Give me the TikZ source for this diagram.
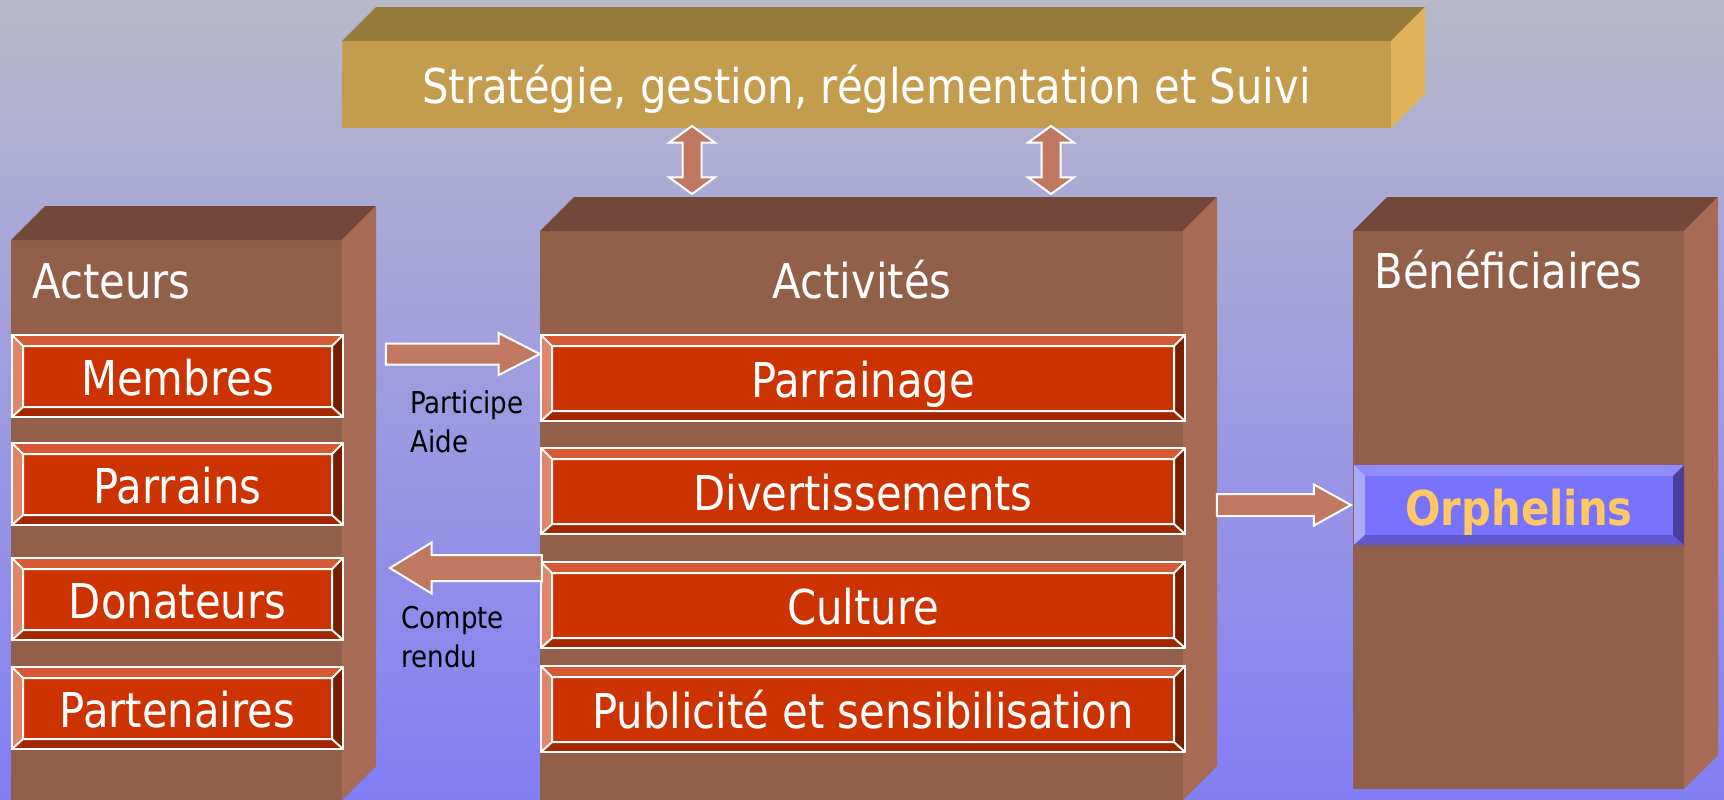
\documentclass[tikz,border=0pt]{standalone}
\usepackage{fontspec}
\setmainfont{DejaVu Sans}[FakeStretch=0.87]
\usetikzlibrary{shapes.arrows}

\definecolor{bgtop}{RGB}{184,184,202}
\definecolor{bgbot}{RGB}{130,126,246}
\definecolor{colfront}{RGB}{146,95,74}
\definecolor{coltop}{RGB}{115,72,59}
\definecolor{colside}{RGB}{166,106,85}
\definecolor{goldfront}{RGB}{196,156,78}
\definecolor{goldtop}{RGB}{150,122,60}
\definecolor{goldside}{RGB}{226,180,90}
\definecolor{redface}{RGB}{204,51,0}
\definecolor{redtop}{RGB}{214,90,51}
\definecolor{redleft}{RGB}{224,132,106}
\definecolor{redbot}{RGB}{163,40,0}
\definecolor{redright}{RGB}{122,30,0}
\definecolor{blueface}{RGB}{120,115,255}
\definecolor{bluetop}{RGB}{144,140,255}
\definecolor{blueleft}{RGB}{170,170,255}
\definecolor{bluebot}{RGB}{96,88,204}
\definecolor{blueright}{RGB}{72,64,154}
\definecolor{arrowfill}{RGB}{192,120,96}
\definecolor{orphtext}{RGB}{255,200,100}

\newcommand\boxsides[3]{%
  \fill[#2] (#1.north west) -- ++(17pt,17pt) -- ([shift={(17pt,17pt)}]#1.north east) -- (#1.north east) -- cycle;
  \fill[#3] (#1.north east) -- ++(17pt,17pt) -- ([shift={(17pt,17pt)}]#1.south east) -- (#1.south east) -- cycle;
}

\tikzset{
  colbox/.style={fill=colfront, inner sep=0pt, outer sep=0pt, anchor=north west},
  goldbox/.style={fill=goldfront, inner sep=0pt, outer sep=0pt, anchor=north west, text=white,
    font=\fontsize{24}{28}\selectfont, text height=18.5pt, text depth=0pt},
  heading/.style={text=white, font=\fontsize{24}{28}\selectfont, inner sep=0pt},
  bevel/.style n args={6}{fill=#1, draw=#6, line width=1pt, path picture={
    \coordinate (bnw) at (path picture bounding box.north west);
    \coordinate (bne) at (path picture bounding box.north east);
    \coordinate (bse) at (path picture bounding box.south east);
    \coordinate (bsw) at (path picture bounding box.south west);
    \coordinate (inw) at ([shift={(5.5pt,-5.5pt)}]bnw);
    \coordinate (ine) at ([shift={(-5.5pt,-5.5pt)}]bne);
    \coordinate (ise) at ([shift={(-5.5pt,5pt)}]bse);
    \coordinate (isw) at ([shift={(5.5pt,5pt)}]bsw);
    \fill[#2] (bnw) -- (bne) -- (ine) -- (inw) -- cycle;
    \fill[#3] (bnw) -- (inw) -- (isw) -- (bsw) -- cycle;
    \fill[#4] (bsw) -- (isw) -- (ise) -- (bse) -- cycle;
    \fill[#5] (bne) -- (bse) -- (ise) -- (ine) -- cycle;
    \path[draw=#6, line width=1pt] (inw) -- (ine) -- (ise) -- (isw) -- cycle
      (bnw) -- (inw) (bne) -- (ine) (bse) -- (ise) (bsw) -- (isw);
  }},
  redbox/.style={bevel={redface}{redtop}{redleft}{redbot}{redright}{white}, inner sep=0pt,
    anchor=north west, text=white, font=\fontsize{24}{28}\selectfont, text height=19pt, text depth=0pt},
  bluebox/.style={bevel={blueface}{bluetop}{blueleft}{bluebot}{blueright}{none}, inner sep=0pt,
    anchor=north west, text=orphtext, font=\fontsize{24}{28}\selectfont\bfseries, text height=20pt, text depth=0pt},
  lbl/.style={align=left, font=\fontsize{15}{19.5}\selectfont, inner sep=0pt, text=black},
  fatarrow/.style={single arrow, fill=arrowfill, draw=white, line width=1pt},
  fatdouble/.style={double arrow, shape border rotate=90, fill=arrowfill, draw=white, line width=1pt}
}

\begin{document}
\begin{tikzpicture}[x=0.5pt, y=-0.5pt]
\useasboundingbox (0,0) rectangle (1724,799);
\shade[top color=bgtop, bottom color=bgbot] (0,0) rectangle (1724,799);

\node[goldbox, minimum width=524.5pt, minimum height=43.5pt] (strategie) at (342,41) {Stratégie, gestion, réglementation et Suivi};
\boxsides{strategie}{goldtop}{goldside}

\node[colbox, minimum width=165.5pt, minimum height=280pt] (acteurs) at (11,240) {};
\boxsides{acteurs}{coltop}{colside}
\node[colbox, minimum width=321.5pt, minimum height=284.5pt] (activites) at (540,231) {};
\boxsides{activites}{coltop}{colside}
\node[colbox, minimum width=165.5pt, minimum height=279pt] (benef) at (1353,231) {};
\boxsides{benef}{coltop}{colside}

\node[heading, anchor=base west] (tacteurs) at (32,298) {Acteurs};
\node[heading, anchor=base] (tactivites) at (862,298) {Activités};
\node[heading, anchor=base west] (tbenef) at (1374,288) {Bénéficiaires};

\node[redbox, minimum width=165.5pt, minimum height=41pt] (membres) at (11,334) {Membres};
\node[redbox, minimum width=165.5pt, minimum height=41pt] (parrains) at (11,442) {Parrains};
\node[redbox, minimum width=165.5pt, minimum height=41pt] (donateurs) at (11,557) {Donateurs};
\node[redbox, minimum width=165.5pt, minimum height=41pt] (partenaires) at (11,666) {Partenaires};

\node[redbox, minimum width=322pt, minimum height=43pt] (parrainage) at (540,334) {Parrainage};
\node[redbox, minimum width=322pt, minimum height=43pt] (divert) at (540,447) {Divertissements};
\node[redbox, minimum width=322pt, minimum height=43pt] (culture) at (540,561) {Culture};
\node[redbox, minimum width=322pt, minimum height=43pt] (pub) at (540,665) {Publicité et sensibilisation};

\node[bluebox, minimum width=165pt, minimum height=40pt] (orphelins) at (1353,464) {Orphelins};

\node[fatarrow, minimum height=77pt, inner sep=4.75pt, single arrow head extend=5.25pt, single arrow tip angle=54, anchor=tip] (participe) at (542,354) {};
\node[fatarrow, shape border rotate=180, minimum height=76pt, inner sep=6pt, single arrow head extend=6.25pt, single arrow tip angle=63, anchor=tip] (compte) at (388,568) {};
\node[fatarrow, minimum height=67pt, inner sep=5pt, single arrow head extend=4.75pt, single arrow tip angle=58, anchor=tip] (versorph) at (orphelins.west) {};

\node[fatdouble, minimum height=34pt, inner sep=4.25pt, double arrow head extend=6.75pt, double arrow tip angle=108] (liena) at (692,160) {};
\node[fatdouble, minimum height=34pt, inner sep=4.25pt, double arrow head extend=6.75pt, double arrow tip angle=108] (lienb) at (1051,160) {};

\node[lbl, anchor=north west] (lparticipe) at (410,390) {Participe\\Aide};
\node[lbl, anchor=north west] (lcompte) at (401,606) {Compte\\rendu};
\end{tikzpicture}
\end{document}
